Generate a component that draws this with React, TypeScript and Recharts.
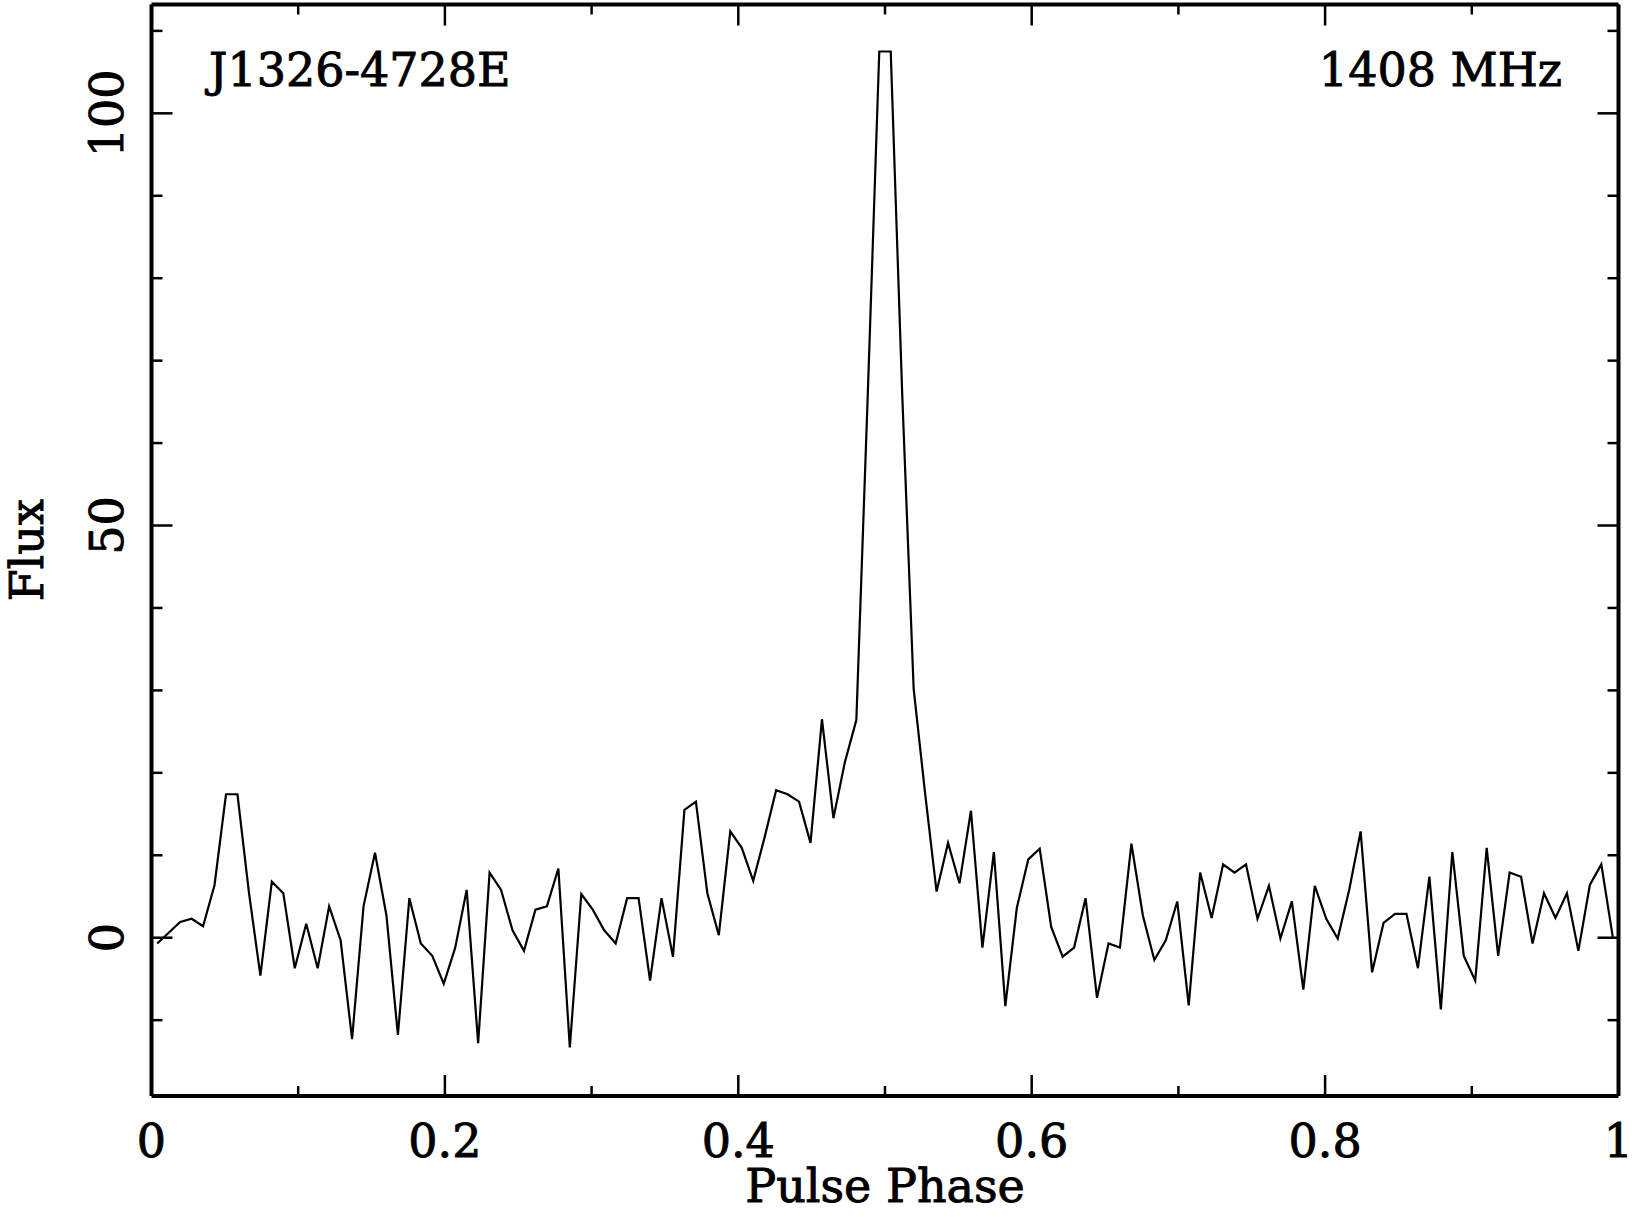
import React from 'react';
import { LineChart, Line, XAxis, YAxis, Label, Customized } from 'recharts';

// pulse profile, 128 phase bins, flux
const phaseBins = 128;
const flux = [
  -0.7, 0.6, 1.9, 2.3, 1.4, 6.4, 17.4, 17.4, 5.5, -4.6,
  6.8, 5.4, -3.7, 1.7, -3.7, 3.8, -0.3, -12.3, 3.8, 10.3,
  2.7, -11.8, 4.8, -0.7, -2.2, -5.6, -1.2, 5.8, -12.8, 7.9,
  5.8, 0.9, -1.6, 3.4, 3.8, 8.4, -13.3, 5.3, 3.4, 0.9,
  -0.7, 4.8, 4.8, -5.2, 4.8, -2.3, 15.5, 16.5, 5.4, 0.3,
  12.9, 10.9, 6.9, 12.2, 17.9, 17.4, 16.5, 11.5, 26.5, 14.5,
  21.3, 26.4, 66, 107.5, 107.5, 66, 30.2, 17.5, 5.6, 11.5,
  6.6, 15.4, -1.2, 10.4, -8.3, 3.6, 9.5, 10.8, 1.3, -2.3,
  -1.2, 4.8, -7.3, -0.7, -1.2, 11.4, 2.7, -2.7, -0.3, 4.4,
  -8.2, 7.9, 2.4, 8.9, 7.9, 8.9, 2.3, 6.3, -0.1, 4.4,
  -6.3, 6.3, 2.3, -0.1, 5.8, 12.9, -4.2, 1.8, 2.9, 2.9,
  -3.7, 7.4, -8.7, 10.4, -2.2, -5.2, 10.9, -2.2, 7.9, 7.4,
  -0.7, 5.4, 2.4, 5.4, -1.6, 6.4, 8.9, 0.1,
];

const xTicks = [0, 0.1, 0.2, 0.3, 0.4, 0.5, 0.6, 0.7, 0.8, 0.9, 1];
const xMajor = [0, 0.2, 0.4, 0.6, 0.8, 1];
const yTicks = [-10, 0, 10, 20, 30, 40, 50, 60, 70, 80, 90, 100, 110];
const yMajor = [0, 50, 100];

const sourceName = 'J1326-4728E';
const frequency = '1408 MHz';

const data = flux.map((f, i) => ({ phase: (i + 0.5) / phaseBins, flux: f }));

const FONT = '"DejaVu Serif", serif';
const FS = 46;
// pgplot text is a bit heavier than DejaVu Book
const txt = { fontFamily: FONT, fontSize: FS, fill: '#000', stroke: '#000', strokeWidth: 0.9 };

const isMajorX = (v: number) => xMajor.some((m) => Math.abs(m - v) < 1e-6);
const fmtX = (v: number) => (v === 0 || v === 1 ? String(v) : v.toFixed(1));

const XTickBottom = (props: any) => {
  const { x, y, payload } = props;
  const major = isMajorX(payload.value);
  return (
    <g>
      <line x1={x} y1={y} x2={x} y2={y - (major ? 21 : 10)} stroke="#000" strokeWidth={2.5} />
      {major && (
        <text x={x} y={y + 61} textAnchor="middle" {...txt}>
          {fmtX(payload.value)}
        </text>
      )}
    </g>
  );
};

const XTickTop = (props: any) => {
  const { x, y, payload } = props;
  const major = isMajorX(payload.value);
  return <line x1={x} y1={y} x2={x} y2={y + (major ? 21 : 10)} stroke="#000" strokeWidth={2.5} />;
};

const YTickLeft = (props: any) => {
  const { x, y, payload } = props;
  const major = yMajor.includes(payload.value);
  const lx = x - 28;
  return (
    <g>
      <line x1={x} y1={y} x2={x + (major ? 21 : 11)} y2={y} stroke="#000" strokeWidth={2.5} />
      {major && (
        <text x={lx} y={y} transform={`rotate(-90 ${lx} ${y})`} textAnchor="middle" {...txt}>
          {payload.value}
        </text>
      )}
    </g>
  );
};

const YTickRight = (props: any) => {
  const { x, y, payload } = props;
  const major = yMajor.includes(payload.value);
  return <line x1={x} y1={y} x2={x - (major ? 21 : 11)} y2={y} stroke="#000" strokeWidth={2.5} />;
};

const Annotations = () => (
  <g>
    <text x={209} y={86} textAnchor="start" {...txt}>{sourceName}</text>
    <text x={1562} y={86} textAnchor="end" {...txt}>{frequency}</text>
  </g>
);

const axisLine = { stroke: '#000', strokeWidth: 4 };

export default function App() {
  return (
    <div style={{ position: 'absolute', left: 0, top: 0, width: 1633, height: 1217, background: '#fff' }}>
      <LineChart width={1633} height={1217} data={data}
        margin={{ top: 3.5, right: 13.5, bottom: 11, left: 11.5 }}>
        <XAxis dataKey="phase" type="number" domain={[0, 1]} ticks={xTicks} interval={0}
          tickSize={0} tickMargin={0} tickLine={false} axisLine={axisLine} height={110}
          tick={(p: any) => <XTickBottom {...p} />}>
          <Label content={({ viewBox }: any) => (
            <text x={viewBox.x + viewBox.width / 2} y={viewBox.y + 106} textAnchor="middle" {...txt}>
              Pulse Phase
            </text>
          )} />
        </XAxis>
        <XAxis xAxisId="top" orientation="top" dataKey="phase" type="number" domain={[0, 1]}
          ticks={xTicks} interval={0} tickSize={0} tickMargin={0} tickLine={false}
          axisLine={axisLine} height={1} tick={(p: any) => <XTickTop {...p} />} />
        <YAxis type="number" domain={[-19.2, 113.2]} allowDataOverflow ticks={yTicks} interval={0}
          tickSize={0} tickMargin={0} tickLine={false} axisLine={axisLine} width={140}
          tick={(p: any) => <YTickLeft {...p} />}>
          <Label content={({ viewBox }: any) => {
            const cx = 43;
            const cy = viewBox.y + viewBox.height / 2;
            return (
              <text x={cx} y={cy} transform={`rotate(-90 ${cx} ${cy})`} textAnchor="middle" {...txt}>
                Flux
              </text>
            );
          }} />
        </YAxis>
        <YAxis yAxisId="right" orientation="right" type="number" domain={[-19.2, 113.2]}
          allowDataOverflow ticks={yTicks} interval={0} tickSize={0} tickMargin={0}
          tickLine={false} axisLine={axisLine} width={1} tick={(p: any) => <YTickRight {...p} />} />
        <Line type="linear" dataKey="flux" stroke="#000" strokeWidth={2.2} dot={false}
          isAnimationActive={false} />
        <Customized component={Annotations} />
      </LineChart>
    </div>
  );
}
